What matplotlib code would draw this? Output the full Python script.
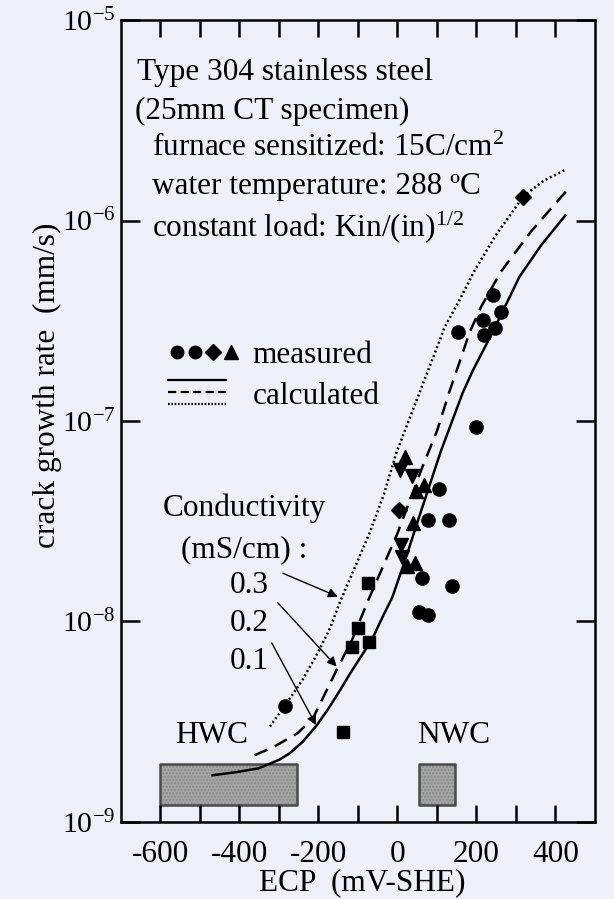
import matplotlib.pyplot as plt
from matplotlib.lines import Line2D
from matplotlib.legend_handler import HandlerTuple

plt.rcParams['font.family'] = ['Liberation Serif', 'DejaVu Serif']
plt.rcParams['mathtext.fontset'] = 'custom'
plt.rcParams['mathtext.rm'] = 'Liberation Serif'
plt.rcParams['mathtext.it'] = 'Liberation Serif:italic'
plt.rcParams['axes.unicode_minus'] = False
plt.rcParams['lines.scale_dashes'] = False
plt.rcParams['font.size'] = 22.5

bg = '#edf1f7'

# calculated curves (ECP in mV-SHE, crack growth rate in mm/s)
ecp_01 = [-468, -410, -352, -300, -273, -240, -204, -175, -145, -120, -95, -65,
          -36, -13, 20, 63, 110, 165, 191, 240, 309, 365, 425]
rate_01 = [1.71e-9, 1.77e-9, 1.85e-9, 2.04e-9, 2.20e-9, 2.51e-9, 3.04e-9, 3.67e-9,
           4.55e-9, 5.50e-9, 6.56e-9, 8.09e-9, 1.07e-8, 1.32e-8, 2.04e-8, 3.72e-8,
           7.08e-8, 1.38e-7, 1.79e-7, 2.75e-7, 5.25e-7, 7.59e-7, 1.06e-6]

ecp_02 = [-362, -313, -253, -214, -154, -115, -73, 0, 63, 100, 132, 160, 182,
          212, 262, 340, 430]
rate_02 = [2.15e-9, 2.37e-9, 2.77e-9, 3.29e-9, 5.73e-9, 8.09e-9, 1.29e-8, 2.75e-8,
           5.89e-8, 8.91e-8, 1.41e-7, 2.04e-7, 2.75e-7, 3.72e-7, 5.56e-7, 8.91e-7,
           1.42e-6]

ecp_03 = [-323, -285, -240, -200, -170, -145, -110, -71, -35, -3, 40, 81, 120,
          157, 195, 250, 319, 370, 425]
rate_03 = [2.99e-9, 3.80e-9, 5.13e-9, 7.08e-9, 9.33e-9, 1.26e-8, 1.82e-8, 2.75e-8,
           4.27e-8, 6.92e-8, 1.15e-7, 1.86e-7, 2.95e-7, 4.01e-7, 5.62e-7, 8.51e-7,
           1.32e-6, 1.58e-6, 1.79e-6]

# measured points
circle_ecp = [-285, 55, 78, 62, 138, 77, 130, 105, 199, 153, 241, 262, 216, 246, 220]
circle_rate = [3.8e-9, 1.11e-8, 1.08e-8, 1.65e-8, 1.5e-8, 3.2e-8, 3.2e-8, 4.6e-8,
               9.3e-8, 2.78e-7, 4.25e-7, 3.5e-7, 3.2e-7, 2.9e-7, 2.7e-7]
square_ecp = [-75, -100, -115, -73, -137]
square_rate = [1.56e-8, 9.3e-9, 7.5e-9, 7.9e-9, 2.8e-9]
diamond_ecp = [5, 319]
diamond_rate = [3.6e-8, 1.31e-6]
triup_ecp = [20, 67, 40, 47, 25, 45]
triup_rate = [6.6e-8, 4.8e-8, 3.1e-8, 4.5e-8, 1.9e-8, 1.95e-8]
tridn_ecp = [7, 38, 10, 12]
tridn_rate = [5.7e-8, 5.3e-8, 2.4e-8, 2.1e-8]

# water chemistry ranges
hwc_ecp = [-600, -255]
nwc_ecp = [55, 145]
box_low = 1.22e-9
box_high = 1.95e-9

x_ticks = [-600, -500, -400, -300, -200, -100, 0, 100, 200, 300, 400]
x_labels = ['-600', '', '-400', '', '-200', '', '0', '', '200', '', '400']

fig = plt.figure(figsize=(6.14, 8.99), dpi=100, facecolor=bg)
ax = fig.add_axes([0.197, 0.0857, 0.772, 0.892], facecolor=bg)
ax.set_yscale('log')

for xs in (hwc_ecp, nwc_ecp):
    ax.fill_between(xs, box_low, box_high, facecolor='#a5a5a5', edgecolor='#8a8a8a',
                    lw=0, hatch='.....', zorder=1)
    ax.fill_between(xs, box_low, box_high, facecolor='none', edgecolor='#4a4a4a',
                    lw=1.8, zorder=1.5)

ax.plot(ecp_01, rate_01, color='k', lw=1.8, zorder=3)
ax.plot(ecp_02, rate_02, color='k', lw=1.8, dashes=(10, 6), zorder=3)
ax.plot(ecp_03, rate_03, color='k', lw=1.8, dashes=(1.4, 2.0), zorder=3)

ax.plot(circle_ecp, circle_rate, 'o', color='k', ms=9.5, zorder=4)
ax.plot(square_ecp, square_rate, 's', color='k', ms=8.5, zorder=4)
ax.plot(diamond_ecp, diamond_rate, 'D', color='k', ms=8, zorder=4)
ax.plot(triup_ecp, triup_rate, '^', color='k', ms=10, zorder=4)
ax.plot(tridn_ecp, tridn_rate, 'v', color='k', ms=10, zorder=4)

ax.set_xlim(-700, 500)
ax.set_ylim(1e-9, 1e-5)
ax.set_xticks(x_ticks)
ax.set_xticklabels(x_labels)
ax.minorticks_off()
ax.tick_params(axis='x', direction='in', length=12, width=1.8, top=True, pad=13)
ax.tick_params(axis='y', direction='in', length=13.5, width=1.8, right=True, pad=4,
               labelsize=21.5)
for s in ax.spines.values():
    s.set_linewidth(1.8)

ax.set_xlabel('ECP  (mV-SHE)')
ax.set_ylabel('crack growth rate  (mm/s)')
ax.yaxis.set_label_coords(-0.125, 0.545)
ax.xaxis.set_label_coords(0.51, -0.058)

# specimen info
ax.text(0.034, 0.935, 'Type 304 stainless steel', transform=ax.transAxes, va='center')
ax.text(0.03, 0.886, '(25mm CT specimen)', transform=ax.transAxes, va='center')
ax.text(0.066, 0.840, 'furnace sensitized: 15C/cm$^2$', transform=ax.transAxes, va='center')
ax.text(0.066, 0.792, 'water temperature: 288 ºC', transform=ax.transAxes, va='center')
ax.text(0.066, 0.742, 'constant load: Kin/(in)$^{1/2}$', transform=ax.transAxes, va='center')

# conductivity labels
ax.text(-595, 3.68e-8, 'Conductivity', va='center')
ax.text(-549, 2.27e-8, '(mS/cm) :', va='center')
ax.text(-425, 1.52e-8, '0.3', va='center')
ax.text(-424, 9.8e-9, '0.2', va='center')
ax.text(-424, 6.3e-9, '0.1', va='center')
arrow = dict(arrowstyle='-|>', color='k', lw=1.0, mutation_scale=14, shrinkA=0, shrinkB=0)
ax.annotate('', xy=(-151, 1.33e-8), xytext=(-290, 1.74e-8), arrowprops=arrow)
ax.annotate('', xy=(-154, 5.96e-9), xytext=(-303, 1.24e-8), arrowprops=arrow)
ax.annotate('', xy=(-206, 3.04e-9), xytext=(-318, 7.8e-9), arrowprops=arrow)

ax.text(-470, 2.7e-9, 'HWC', ha='center', va='center')
ax.text(142, 2.7e-9, 'NWC', ha='center', va='center')


class CalcKey:
    pass


class StackedLines:
    def legend_artist(self, legend, orig_handle, fontsize, handlebox):
        x0, y0 = handlebox.xdescent, handlebox.ydescent
        w, h = handlebox.width, handlebox.height
        styles = [dict(), dict(dashes=(6, 3)), dict(dashes=(1.2, 1.2))]
        for i, st in enumerate(styles):
            y = y0 + h * (1.1 - 0.55 * i)
            ln = Line2D([x0, x0 + w * 0.8], [y, y], color='k', lw=1.6, **st)
            handlebox.add_artist(ln)
        return ln


meas = tuple(Line2D([], [], ls='none', marker=m, color='k', ms=s)
             for m, s in [('o', 9), ('o', 9), ('D', 8), ('^', 10)])
ax.legend([meas, CalcKey()], ['measured', 'calculated'],
          handler_map={tuple: HandlerTuple(ndivide=None, pad=0), CalcKey: StackedLines()},
          loc='upper left', bbox_to_anchor=(0.1, 0.6), frameon=False,
          borderaxespad=0, borderpad=0, handlelength=2.3, handletextpad=0.4,
          labelspacing=0.4)

fig.savefig('out.png', dpi=100, facecolor=bg)
